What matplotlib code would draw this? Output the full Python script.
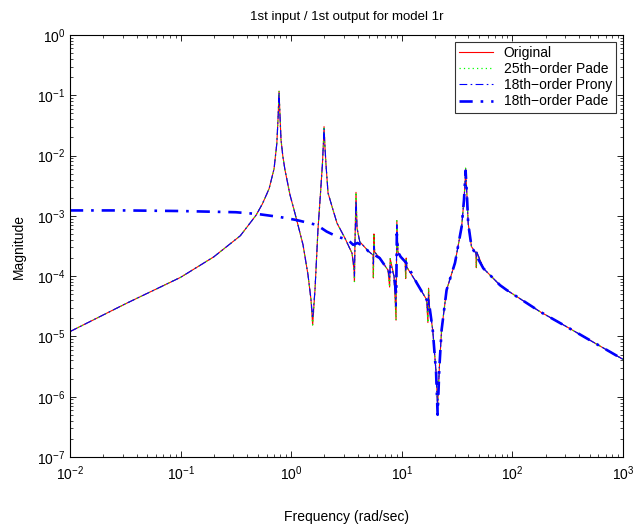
import numpy as np
import matplotlib
matplotlib.use("Agg")
import matplotlib.pyplot as plt

plt.rcParams['font.family'] = ['Liberation Sans', 'DejaVu Sans']
plt.rcParams['mathtext.fontset'] = 'custom'
plt.rcParams['mathtext.rm'] = 'Liberation Sans'

# log10(frequency), log10(magnitude)
orig_logw = [-2.0, -1.5, -1.0, -0.7, -0.46, -0.318, -0.26, -0.2, -0.155, -0.13, -0.118,
             -0.11, -0.1, -0.092, -0.075, -0.056, -0.011, 0.05, 0.107, 0.152, 0.179,
             0.194, 0.215, 0.242, 0.265, 0.282, 0.291, 0.297, 0.305, 0.315, 0.333, 0.378,
             0.414, 0.486, 0.55, 0.568, 0.572,
             0.576, 0.586, 0.595, 0.62, 0.70, 0.740, 0.743, 0.748, 0.755, 0.80, 0.875,
             0.890, 0.895, 0.93, 0.948, 0.955, 0.965, 0.99, 1.03, 1.035, 1.04, 1.045,
             1.134, 1.224, 1.236, 1.242, 1.25, 1.28, 1.31, 1.324, 1.34, 1.36, 1.405,
             1.481, 1.541, 1.562, 1.572, 1.577, 1.583, 1.59, 1.60, 1.63, 1.670, 1.674,
             1.678, 1.737, 1.888, 1.948, 2.25, 2.491, 3.0]
orig_logm = [-4.92, -4.46, -4.02, -3.68, -3.33, -2.99, -2.80, -2.55, -2.22, -1.80, -1.35,
             -0.93, -1.40, -1.74, -2.02, -2.24, -2.65, -3.07, -3.48, -3.98, -4.39,
             -4.81, -4.23, -3.23, -2.62, -2.15, -1.80, -1.52, -1.85, -2.16, -2.62, -2.90,
             -3.12, -3.37, -3.62, -3.9, -4.09,
             -3.5, -2.61, -3.2, -3.43, -3.59, -3.65, -4.03, -3.30, -3.6, -3.70, -3.90,
             -4.18, -3.71, -4.0, -4.73, -3.08, -3.6, -3.68, -3.75, -4.04, -3.7, -3.85,
             -4.11, -4.39, -4.77, -4.20, -4.5, -4.9, -5.6, -6.15, -5.5, -4.89, -4.23,
             -3.78, -3.18, -2.74, -2.45, -2.21, -2.45, -2.70, -3.12, -3.51, -3.62, -3.86,
             -3.6, -3.87, -4.15, -4.23, -4.59, -4.84, -5.38]

# 18th-order Prony: same as original except slightly milder spikes
prony_logw = orig_logw
prony_logm = [-4.92, -4.46, -4.02, -3.68, -3.33, -2.99, -2.80, -2.55, -2.22, -1.80, -1.35,
              -0.95, -1.40, -1.74, -2.02, -2.24, -2.65, -3.07, -3.48, -3.98, -4.39,
              -4.70, -4.23, -3.23, -2.62, -2.15, -1.80, -1.55, -1.85, -2.16, -2.62, -2.90,
              -3.12, -3.37, -3.62, -3.85, -4.0,
              -3.5, -2.75, -3.2, -3.43, -3.59, -3.65, -3.80, -3.50, -3.6, -3.70, -3.90,
              -4.05, -3.80, -4.0, -4.5, -3.15, -3.6, -3.68, -3.75, -3.90, -3.72, -3.85,
              -4.11, -4.39, -4.6, -4.30, -4.5, -4.9, -5.6, -6.25, -5.5, -4.89, -4.23,
              -3.78, -3.18, -2.74, -2.48, -2.25, -2.45, -2.70, -3.12, -3.51, -3.62, -3.70,
              -3.6, -3.87, -4.15, -4.23, -4.59, -4.84, -5.38]

# 18th-order Pade: flat at low frequency, merges near 4 rad/s
pade18_logw = [-2.0, -1.5, -1.0, -0.5, -0.3, -0.1, 0.05, 0.23, 0.32, 0.41, 0.514, 0.56,
               0.60, 0.65, 0.70, 0.80, 0.875, 0.93, 0.95, 0.955, 0.965, 0.99, 1.04,
               1.134, 1.224, 1.25, 1.28, 1.31, 1.324, 1.34, 1.36, 1.405, 1.481,
               1.541, 1.562, 1.577, 1.59, 1.60, 1.63, 1.737, 1.888, 1.948, 2.25,
               2.491, 3.0]
pade18_logm = [-2.91, -2.91, -2.92, -2.94, -2.97, -3.02, -3.07, -3.15, -3.26, -3.34,
               -3.40, -3.48, -3.45, -3.50, -3.59, -3.70, -3.90, -4.0, -4.3, -3.3, -3.6,
               -3.68, -3.78, -4.11, -4.39, -4.5, -4.9, -5.6, -6.3, -5.5, -4.89, -4.23,
               -3.78, -3.18, -2.74, -2.25, -2.70, -3.12, -3.51, -3.87, -4.15,
               -4.23, -4.59, -4.84, -5.38]

labels = ['Original', '25th\u2212order Pade', '18th\u2212order Prony', '18th\u2212order Pade']
title = '1st input / 1st output for model 1r'

fig = plt.figure(figsize=(6.34, 5.29), dpi=100)
ax = fig.add_axes([70/634, 1-457/529, 553/634, 422/529])

w0 = 10.0 ** np.array(orig_logw)
m0 = 10.0 ** np.array(orig_logm)
wp = 10.0 ** np.array(prony_logw)
mp = 10.0 ** np.array(prony_logm)
w18 = 10.0 ** np.array(pade18_logw)
m18 = 10.0 ** np.array(pade18_logm)

ax.plot(w0, m0, color='#ff0000', lw=0.8, ls='-', label=labels[0])
ax.plot(w0, m0, color='#00ff00', lw=0.9, ls=(0, (1, 2.5)), label=labels[1])
ax.plot(wp, mp, color='#0000ff', lw=0.8, ls=(0, (7, 3, 1.5, 3)), label=labels[2])
ax.plot(w18, m18, color='#0000ff', lw=1.9, ls=(0, (5, 3, 1, 3)), label=labels[3])

ax.set_xscale('log')
ax.set_yscale('log')
ax.set_xlim(1e-2, 1e3)
ax.set_ylim(1e-7, 1e0)
ax.tick_params(which='both', direction='in', top=True, right=True, labelsize=10)
ax.tick_params(which='major', length=4, width=0.6)
ax.tick_params(which='minor', length=2, width=0.5)
ax.tick_params(axis='x', pad=5)
for s in ax.spines.values():
    s.set_linewidth(0.8)
ax.set_xlabel('Frequency (rad/sec)', fontsize=10, labelpad=20)
ax.set_ylabel('Magnitude', fontsize=10, labelpad=8)
ax.set_title(title, fontsize=9.5, pad=11)

leg = ax.legend(loc='upper right', fontsize=10, frameon=True, fancybox=False,
                borderaxespad=0.5, handlelength=2.4, borderpad=0.3, labelspacing=0.15,
                handletextpad=0.8)
leg.get_frame().set_edgecolor('black')
leg.get_frame().set_linewidth(0.8)

fig.savefig('out.png', dpi=100)
